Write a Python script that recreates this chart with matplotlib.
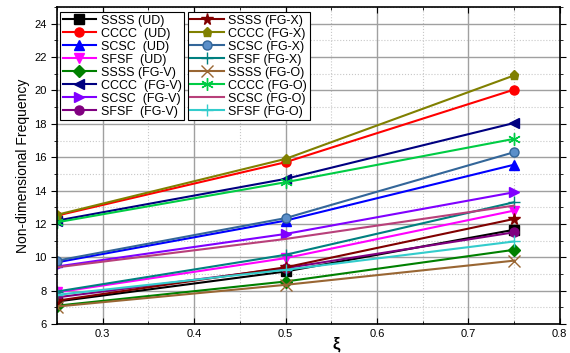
import numpy as np
import matplotlib
matplotlib.use('Agg')
import matplotlib.pyplot as plt
from matplotlib.ticker import MultipleLocator

plt.rcParams['font.family'] = ['Liberation Sans', 'DejaVu Sans']

xi = [0.25, 0.5, 0.75]

### values ###
labels = ['SSSS (UD)', 'CCCC  (UD)', 'SCSC  (UD)', 'SFSF  (UD)',
          'SSSS (FG-V)', 'CCCC  (FG-V)', 'SCSC  (FG-V)', 'SFSF  (FG-V)',
          'SSSS (FG-X)', 'CCCC (FG-X)', 'SCSC (FG-X)', 'SFSF (FG-X)',
          'SSSS (FG-O)', 'CCCC (FG-O)', 'SCSC (FG-O)', 'SFSF (FG-O)']

ssss_ud = [7.35, 9.15, 11.65]
cccc_ud = [12.5, 15.7, 20.05]
scsc_ud = [9.7, 12.2, 15.55]
sfsf_ud = [7.9, 9.95, 12.8]
ssss_fgv = [7.1, 8.55, 10.45]
cccc_fgv = [12.2, 14.7, 18.05]
scsc_fgv = [9.45, 11.4, 13.9]
sfsf_fgv = [7.6, 9.35, 11.5]
ssss_fgx = [7.4, 9.4, 12.3]
cccc_fgx = [12.55, 15.9, 20.9]
scsc_fgx = [9.8, 12.35, 16.3]
sfsf_fgx = [7.95, 10.15, 13.3]
ssss_fgo = [7.05, 8.35, 9.8]
cccc_fgo = [12.1, 14.5, 17.1]
scsc_fgo = [9.4, 11.1, 13.1]
sfsf_fgo = [7.75, 9.25, 10.95]

series = [ssss_ud, cccc_ud, scsc_ud, sfsf_ud,
          ssss_fgv, cccc_fgv, scsc_fgv, sfsf_fgv,
          ssss_fgx, cccc_fgx, scsc_fgx, sfsf_fgx,
          ssss_fgo, cccc_fgo, scsc_fgo, sfsf_fgo]

colors = ['black', 'red', 'blue', 'magenta',
          '#008000', '#000080', '#8000ff', '#800080',
          '#800000', '#808000', '#336699', '#008080',
          '#996633', '#00cc44', '#b8407a', '#33cccc']
markers = ['s', 'o', '^', 'v',
           'D', '<', '>', 'o',
           '*', 'p', 'o', '+',
           'x', '*', None, '+']

fig = plt.figure(figsize=(5.7, 3.53), dpi=100)
ax = fig.add_axes([0.1, 0.082, 0.882, 0.898])

handles = []
for i in range(len(series)):
    m = markers[i]
    ms = 6.5
    if m in ['+', 'x']:
        ms = 8
    if m == '*':
        ms = 8.5
    if i == 13:
        m = (6, 2, 0)
        ms = 9
    l, = ax.plot(xi, series[i], color=colors[i], marker=m, markersize=ms,
                 lw=1.5, label=labels[i], markeredgewidth=1.0)
    if i == 10:
        l.set_markerfacecolor('#5b8fc9')
        l.set_markeredgecolor('#336699')
    handles.append(l)

ax.set_xlim(0.25, 0.8)
ax.set_ylim(6, 25)
ax.xaxis.set_minor_locator(MultipleLocator(0.05))
ax.yaxis.set_minor_locator(MultipleLocator(1))
ax.set_xticks([0.3, 0.4, 0.5, 0.6, 0.7, 0.8])
ax.set_xticklabels(['0.3', '0.4', '0.5', '0.6', '0.7', '0.8'])
ax.set_yticks([6, 8, 10, 12, 14, 16, 18, 20, 22, 24])
ax.grid(True, which='major', color='#a0a0a0', lw=1.0)
ax.grid(True, which='minor', color='#c8c8c8', lw=0.8, ls=':')
ax.set_axisbelow(True)
ax.tick_params(which='both', direction='in', top=True, right=True, labelsize=8)
ax.tick_params(axis='y', which='both', direction='out')
ax.tick_params(which='major', length=4)
ax.tick_params(which='minor', length=2.5)
for sp in ax.spines.values():
    sp.set_linewidth(1.2)

ax.set_ylabel('Non-dimensional Frequency', fontsize=10, labelpad=3)
ax.set_xlabel('ξ', fontsize=12, fontweight='bold', labelpad=0)
ax.xaxis.set_label_coords(0.555, -0.04)

leg_kw = dict(fontsize=9, frameon=True, fancybox=False, edgecolor='black',
              handlelength=2.7, handletextpad=0.35, labelspacing=0.08,
              borderpad=0.2, borderaxespad=0.0, framealpha=1)
leg1 = ax.legend(handles=handles[:8], loc='upper left',
                 bbox_to_anchor=(0.006, 0.984), **leg_kw)
leg1.get_frame().set_linewidth(0.8)
ax.add_artist(leg1)
leg2 = ax.legend(handles=handles[8:], loc='upper left',
                 bbox_to_anchor=(0.26, 0.984), **leg_kw)
leg2.get_frame().set_linewidth(0.8)

fig.savefig('out.png', dpi=100)
